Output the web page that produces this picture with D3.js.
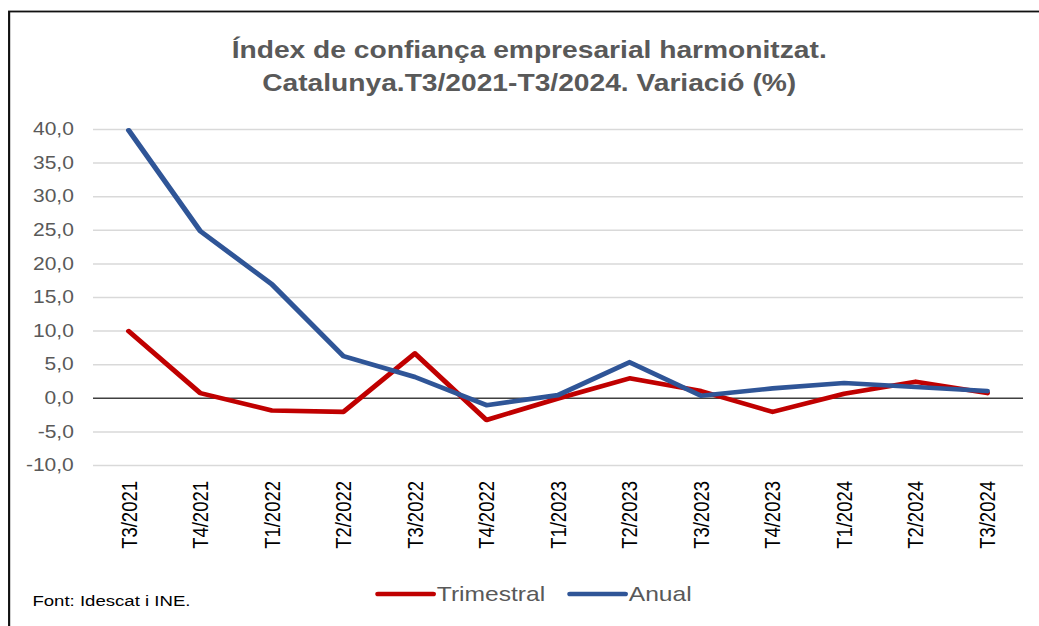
<!DOCTYPE html>
<html>
<head>
<meta charset="utf-8">
<script src="https://cdn.jsdelivr.net/npm/d3@7"></script>
<style>
  html, body { margin: 0; padding: 0; background: #fff; }
  svg { display: block; }
  text { font-family: "Liberation Sans", Arial, sans-serif; }
</style>
</head>
<body>
<div id="chart"></div>
<script>
// data
const quarters = ["T3/2021", "T4/2021", "T1/2022", "T2/2022", "T3/2022", "T4/2022", "T1/2023",
                  "T2/2023", "T3/2023", "T4/2023", "T1/2024", "T2/2024", "T3/2024"];
const trimestral = [9.9, 0.7, -1.9, -2.1, 6.6, -3.3, -0.1, 2.9, 1.0, -2.1, 0.6, 2.4, 0.7];
const anual = [39.8, 24.8, 16.9, 6.2, 3.1, -1.1, 0.4, 5.3, 0.3, 1.4, 2.2, 1.6, 1.0];
const yTicks = [40, 35, 30, 25, 20, 15, 10, 5, 0, -5, -10];
const series = [
  { name: "Trimestral", values: trimestral, color: "#C00000" },
  { name: "Anual", values: anual, color: "#2F5597" }
];

// the original image is stretched horizontally, so draw in a narrower box and stretch it
const W = 1039, H = 626;
const sx = 1.2;
const w = W / sx;

const svg = d3.select("#chart").append("svg")
  .attr("width", W)
  .attr("height", H)
  .attr("viewBox", `0 0 ${w} ${H}`)
  .attr("preserveAspectRatio", "none");

// frame of the chart object
svg.append("rect")
  .attr("x", 7.6).attr("y", 11.5)
  .attr("width", w + 20).attr("height", H + 20)
  .attr("fill", "white")
  .attr("stroke", "#111").attr("stroke-width", 1.8);

const margin = { left: 77.5, right: w - 852.5, top: 129, bottom: H - 465 };

const x = d3.scaleBand()
  .domain(quarters)
  .range([margin.left, w - margin.right]);

const y = d3.scaleLinear()
  .domain([-10, 40])
  .range([H - margin.bottom, margin.top]);

// title
const title = svg.append("text")
  .attr("text-anchor", "middle")
  .attr("fill", "#595959")
  .attr("font-weight", "bold")
  .style("font-size", "23.5px");
title.append("tspan").attr("x", 441).attr("y", 58).text("Índex de confiança empresarial harmonitzat.");
title.append("tspan").attr("x", 441).attr("y", 91).text("Catalunya.T3/2021-T3/2024. Variació (%)");

// y grid + labels
const yAxis = svg.append("g")
  .attr("transform", `translate(${margin.left},0)`)
  .call(d3.axisLeft(y)
    .tickValues(yTicks)
    .tickSize(-(w - margin.left - margin.right))
    .tickPadding(16)
    .tickFormat(d => d3.format(".1f")(d).replace(".", ",").replace("\u2212", "-")));
yAxis.select(".domain").remove();
yAxis.selectAll(".tick line")
  .attr("stroke", d => d === 0 ? "#404040" : "#D9D9D9")
  .attr("stroke-width", d => d === 0 ? 1.6 : 1.5);
yAxis.selectAll(".tick text")
  .attr("fill", "#595959")
  .style("font-size", "17.5px")
  .style("font-family", "'Liberation Sans', Arial, sans-serif");

// x labels, rotated
const xAxis = svg.append("g")
  .attr("transform", `translate(0,${y(-10)})`)
  .call(d3.axisBottom(x).tickSize(0).tickPadding(0));
xAxis.select(".domain").remove();
xAxis.selectAll(".tick text")
  .attr("fill", "#000")
  .style("font-size", "18.5px")
  .style("font-family", "'Liberation Sans', Arial, sans-serif")
  .attr("transform", "rotate(-90)")
  .attr("text-anchor", "end")
  .attr("dy", "0.35em")
  .attr("x", -16)
  .attr("y", 0);

// lines
const line = d3.line()
  .x((d, i) => x(quarters[i]) + x.bandwidth() / 2)
  .y(d => y(d));

svg.append("g").selectAll("path")
  .data(series)
  .join("path")
  .attr("d", d => line(d.values))
  .attr("fill", "none")
  .attr("stroke", d => d.color)
  .attr("stroke-width", 4.6)
  .attr("stroke-linejoin", "round")
  .attr("stroke-linecap", "round");

// legend
const legendX = [315, 475];
const legend = svg.append("g").selectAll("g")
  .data(series)
  .join("g")
  .attr("transform", (d, i) => `translate(${legendX[i]},594)`);
legend.append("line")
  .attr("x1", 0).attr("x2", 46)
  .attr("stroke", d => d.color)
  .attr("stroke-width", 4.6)
  .attr("stroke-linecap", "round");
legend.append("text")
  .attr("x", 49)
  .attr("dy", "0.35em")
  .attr("fill", "#595959")
  .style("font-size", "20.5px")
  .text(d => d.name);

// source note
svg.append("text")
  .attr("x", 27)
  .attr("y", 606)
  .attr("fill", "#000")
  .style("font-family", "'Liberation Sans Narrow', 'Liberation Sans', Arial, sans-serif")
  .style("font-size", "15.5px")
  .text("Font: Idescat i INE.");
</script>
</body>
</html>
